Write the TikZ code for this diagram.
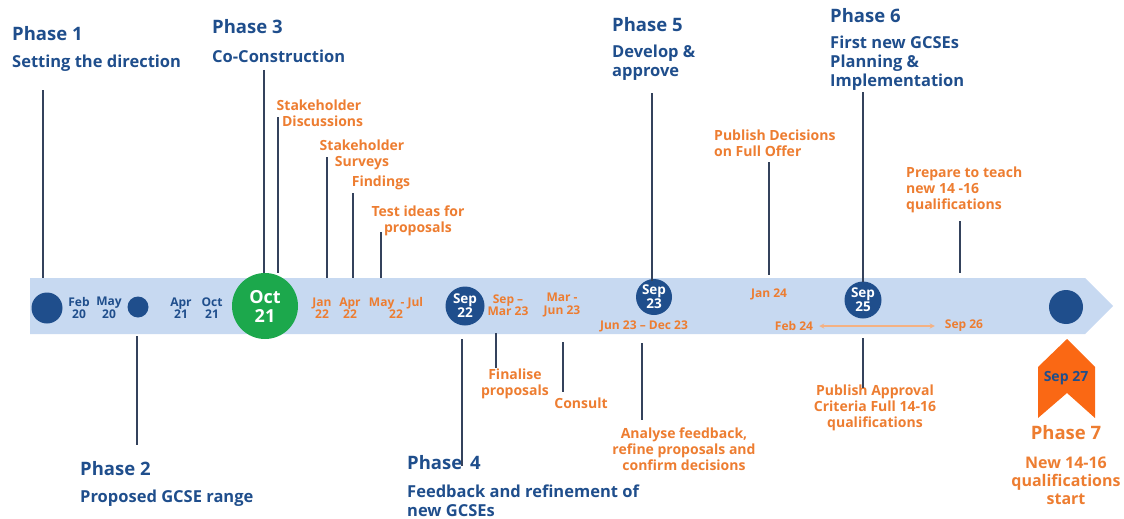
\documentclass[tikz,border=0pt]{standalone}
\usepackage{fontspec}
\setmainfont{Open Sans}
\definecolor{navy}{RGB}{31,78,140}
\definecolor{tangerine}{RGB}{237,125,49}
\definecolor{bandblue}{RGB}{199,217,241}
\definecolor{leaf}{RGB}{28,168,76}
\definecolor{stem}{RGB}{52,66,92}
\definecolor{flag}{RGB}{250,104,20}
\definecolor{peach}{RGB}{244,177,131}
\begin{document}
\begin{tikzpicture}[x=1pt,y=-1pt,
      phase/.style={anchor=west,inner sep=0pt,text=navy,font=\bfseries\fontsize{18.5}{20}\selectfont},
      blurb/.style={anchor=west,inner sep=0pt,align=left,text=navy,font=\bfseries\fontsize{16.5}{19}\selectfont},
      task/.style={inner sep=0pt,align=center,text=tangerine,font=\bfseries\fontsize{14}{16}\selectfont},
      when/.style={inner sep=0pt,align=center,text=navy,font=\bfseries\fontsize{12}{12.5}\selectfont},
      owhen/.style={when,text=tangerine},
      bubble/.style={circle,fill=navy,text=white,inner sep=0pt,minimum size=#1,align=center,font=\bfseries\fontsize{13.5}{13}\selectfont},
      stemline/.style={draw=stem,line width=1.1pt}]
      \useasboundingbox (0,0) rectangle (1124,519);
      \fill[bandblue] (30,278) -- (1085,278) -- (1113,306) -- (1085,334) -- (30,334) -- cycle;
      \fill[flag] (1067,339) -- (1095,367) -- (1095,418) -- (1067,393) -- (1038,418) -- (1038,367) -- cycle;
      \node[bubble=31pt] (d1) at (47,308) {};
      \node[bubble=21pt] (d2) at (138,307) {};
      \node[bubble=66pt,fill=leaf,font=\bfseries\fontsize{18}{19}\selectfont] (d3) at (265,306) {Oct\\21};
      \node[bubble=39pt] (d4) at (465,306) {Sep\\22};
      \node[bubble=36pt] (d5) at (654,297) {Sep\\23};
      \node[bubble=37pt] (d6) at (863,300) {Sep\\25};
      \node[bubble=34pt] (d7) at (1066,307) {};
      \node[when] (feb20) at (79,308) {Feb\\20};
      \node[when] (may20) at (109,308) {May\\20};
      \node[when] (apr21) at (181,308) {Apr\\21};
      \node[when] (oct21) at (212,308) {Oct\\21};
      \node[owhen] (jan22) at (322,308) {Jan\\22};
      \node[owhen] (apr22) at (350,308) {Apr\\22};
      \node[owhen] (mayjul22) at (396,308) {May\ \ - Jul\\22};
      \node[owhen] (sepmar23) at (508,305) {Sep --\\Mar 23};
      \node[owhen] (marjun23) at (562,305) {Mar -\\Jun 23};
      \node[owhen] (jundec23) at (644,326) {Jun 23 -- Dec 23};
      \node[owhen] (jan24) at (769,294) {Jan 24};
      \node[owhen] (feb24) at (794,326) {Feb 24};
      \node[owhen] (sep26) at (964,326) {Sep 26};
      \node[text=navy,inner sep=0pt,font=\bfseries\fontsize{14}{16}\selectfont] (sep27) at (1066,378) {Sep 27};
      \node[phase] (ph1) at (12,34) {Phase 1};
      \node[blurb] (ph1txt) at (12,63) {Setting the direction};
      \node[phase] (ph2) at (80,469) {Phase 2};
      \node[blurb] (ph2txt) at (80,498) {Proposed GCSE range};
      \node[phase] (ph3) at (212,27) {Phase 3};
      \node[blurb] (ph3txt) at (212,56) {Co-Construction};
      \node[phase] (ph4) at (407,463) {Phase\ \,4};
      \node[blurb] (ph4txt) at (407,501) {Feedback and refinement of\\new GCSEs};
      \node[phase] (ph5) at (612,25) {Phase 5};
      \node[blurb] (ph5txt) at (612,63) {Develop \&\\approve};
      \node[phase] (ph6) at (830,16) {Phase 6};
      \node[blurb] (ph6txt) at (830,63) {First new GCSEs\\Planning \&\\Implementation};
      \node[phase,anchor=center,text=tangerine,font=\bfseries\fontsize{18.5}{20}\selectfont] (ph7) at (1066,433) {Phase 7};
      \node[blurb,anchor=center,align=center,text=tangerine,font=\bfseries\fontsize{16}{18}\selectfont] (ph7txt) at (1066,481) {New 14-16\\qualifications\\start};
      \node[task] (discuss) at (319,113) {Stakeholder\\\ \ Discussions};
      \node[task] (survey) at (362,155) {Stakeholder\\Surveys};
      \node[task] (findings) at (381,183) {Findings};
      \node[task] (testideas) at (418,221) {Test ideas for\\proposals};
      \node[task] (finalise) at (515,384) {Finalise\\proposals};
      \node[task] (consult) at (581,403) {Consult};
      \node[task] (analyse) at (684,449) {Analyse feedback,\\refine proposals and\\confirm decisions};
      \node[task,anchor=west,align=left] (pubdec) at (714,143) {Publish Decisions\\on Full Offer};
      \node[task] (pubappr) at (875,408) {Publish Approval\\Criteria Full 14-16\\qualifications};
      \node[task,anchor=west,align=left] (prepare) at (906,190) {Prepare to teach\\new 14 -16\\qualifications};
      \draw
        (43,90) coordinate (ph1top) (43,278) coordinate (ph1foot)
        (137,336) coordinate (ph2top) (137,445) coordinate (ph2foot)
        (264,70) coordinate (ph3top) (264,273) coordinate (ph3foot)
        (278,117) coordinate (discusstop) (278,273) coordinate (discussfoot)
        (327,157) coordinate (surveytop) (327,278) coordinate (surveyfoot)
        (353,193) coordinate (findingstop) (353,278) coordinate (findingsfoot)
        (381,232) coordinate (testtop) (381,278) coordinate (testfoot)
        (462,339) coordinate (ph4top) (462,466) coordinate (ph4foot)
        (496,333) coordinate (finalisetop) (496,368) coordinate (finalisefoot)
        (563,342) coordinate (consulttop) (563,392) coordinate (consultfoot)
        (652,93) coordinate (ph5top) (652,281) coordinate (ph5foot)
        (642,343) coordinate (analysetop) (642,420) coordinate (analysefoot)
        (769,162) coordinate (pubdectop) (769,275) coordinate (pubdecfoot)
        (863,92) coordinate (ph6top) (863,282) coordinate (ph6foot)
        (960,221) coordinate (preparetop) (960,273) coordinate (preparefoot)
        (863,338) coordinate (pubapprtop) (863,388) coordinate (pubapprfoot);
      \begin{scope}[stemline]
        \draw (ph1top) to (ph1foot);
        \draw (ph2top) to (ph2foot);
        \draw (ph3top) to (ph3foot);
        \draw (discusstop) to (discussfoot);
        \draw (surveytop) to (surveyfoot);
        \draw (findingstop) to (findingsfoot);
        \draw (testtop) to (testfoot);
        \draw (ph4top) to (ph4foot);
        \draw (finalisetop) to (finalisefoot);
        \draw (consulttop) to (consultfoot);
        \draw (ph5top) to (ph5foot);
        \draw (analysetop) to (analysefoot);
        \draw (pubdectop) to (pubdecfoot);
        \draw (ph6top) to (ph6foot);
        \draw (preparetop) to (preparefoot);
        \draw (pubapprtop) to (pubapprfoot);
      \end{scope}
      \draw[peach,line width=1.2pt,stealth-stealth,shorten <=6pt,shorten >=10pt] (feb24) to (sep26);
    \end{tikzpicture}
\end{document}
